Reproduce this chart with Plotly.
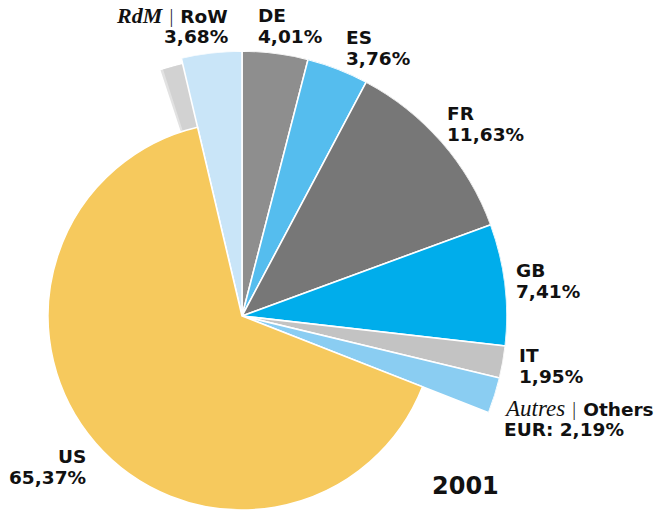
import math
import plotly.graph_objects as go

# ---- data ----
codes = ["DE", "ES", "FR", "GB", "IT", "Others", "US", "RdM"]
name_labels = ["DE", "ES", "FR", "GB", "IT",
               "<i>Autres</i> | Others", "US", "<i>RdM</i> | RoW"]
shares = [4.01, 3.76, 11.63, 7.41, 1.95, 2.19, 65.37, 3.68]
year_label = "2001"

# ---- styles ----
colors = ["#8e8e8e", "#55bdee", "#777777", "#00adeb", "#c3c3c3",
          "#8acdf2", "#f6c95d", "#c9e5f8"]
US_R = 0.732                      # relative radius of the US slice
SHADOW_SHIFT = 4.5                # degrees the grey shadow is rotated
FONT = "DejaVu Sans"
SERIF = "Liberation Serif"
W, H = 659, 512
CX, CY, RPX = 242, 316, 265       # pie centre and outer radius (px)

# angles computed from shares (compass degrees, clockwise from north)
total = sum(shares)
widths = [s / total * 360 for s in shares]
starts, acc = [], 0.0
for w in widths:
    starts.append(acc)
    acc += w
thetas = [s + w / 2 for s, w in zip(starts, widths)]

iu = codes.index("US")
ir = codes.index("RdM")
big = [i for i in range(len(codes)) if i != iu]


def sector_bbox(s0, s1):
    pts = [(0.0, 0.0)]
    angs = [s0, s1] + [k * 90 for k in range(-8, 9) if s0 < k * 90 < s1]
    for a in angs:
        pts.append((math.cos(math.radians(a)), math.sin(math.radians(a))))
    xs = [p[0] for p in pts]
    ys = [p[1] for p in pts]
    return min(xs), min(ys), max(xs), max(ys)


def domain_for(bbox, rpx):
    x0, y0, x1, y1 = bbox
    return dict(x=[(CX + rpx * x0) / W, (CX + rpx * x1) / W],
                y=[1 - (CY - rpx * y0) / H, 1 - (CY - rpx * y1) / H])


# sector (geometric, ccw from east) that holds every slice except the US one
end_compass = starts[codes.index("Others")] + widths[codes.index("Others")] + 2
start_compass = starts[ir] - SHADOW_SHIFT - 2
secA = [90 - end_compass, 90 - start_compass + 360]
domA = domain_for(sector_bbox(*secA), RPX)

# full circle for the US slice, radius limited by the bottom edge
rB_max = (H - CY) / RPX
domB = domain_for((-1, -1, 1, 1), RPX * rB_max)

fig = go.Figure()

# soft grey shadow behind the RoW slice (annulus outside the US slice)
for extra, col in [(0.6, "#e2e2e2"), (0.0, "#d2d2d2")]:
    fig.add_trace(go.Barpolar(
        r=[0.977 - US_R], base=[US_R],
        theta=[thetas[ir] - SHADOW_SHIFT - extra / 2],
        width=[widths[ir] + extra],
        marker=dict(color=col, line=dict(width=0)),
        hoverinfo="skip", showlegend=False, subplot="polar"))

fig.add_trace(go.Barpolar(
    r=[1.0] * len(big), theta=[thetas[i] for i in big],
    width=[widths[i] for i in big],
    marker=dict(color=[colors[i] for i in big],
                line=dict(color="white", width=1.6)),
    hoverinfo="skip", showlegend=False, subplot="polar"))

fig.add_trace(go.Barpolar(
    r=[US_R], theta=[thetas[iu]], width=[widths[iu]],
    marker=dict(color=[colors[iu]], line=dict(color="white", width=1.6)),
    hoverinfo="skip", showlegend=False, subplot="polar2"))

polar_common = dict(
    bgcolor="rgba(0,0,0,0)",
    angularaxis=dict(visible=False, rotation=90, direction="clockwise"),
)
fig.update_layout(
    width=W, height=H, margin=dict(l=0, r=0, t=0, b=0),
    paper_bgcolor="white", plot_bgcolor="white",
    polar=dict(domain=domA, sector=secA,
               radialaxis=dict(visible=False, range=[0, 1.0]),
               **polar_common),
    polar2=dict(domain=domB,
                radialaxis=dict(visible=False, range=[0, rB_max]),
                **polar_common),
)


def fmt(v):
    return f"{v:.2f}%".replace(".", ",")


def styled(name, code):
    weight = "600" if code == "RdM" else "normal"
    size = 22 if code == "RdM" else 23
    name = name.replace(
        "<i>", f"<span style=\"font-family:'{SERIF}';font-size:{size}px;"
               f"font-weight:{weight}\"><i>")
    name = name.replace("</i>", "</i></span>")
    name = name.replace(" | ", "<span style='font-weight:300'> | </span>")
    return name


value_labels = [fmt(v) for v in shares]
io = codes.index("Others")
value_labels[io] = "EUR: " + fmt(shares[io])

# label layout (pixel anchors: x, centre y of first line, alignment)
label_pos = {
    "DE": (256, 15, "left"),
    "ES": (344, 37, "left"),
    "FR": (445, 113, "left"),
    "GB": (514, 270, "left"),
    "IT": (517, 355, "left"),
    "Others": (502, 408, "left"),
    "US": (88, 456, "right"),
    "RdM": (230, 15, "right"),
}
LINE = 21
for c, nm, vl in zip(codes, name_labels, value_labels):
    x, y, anc = label_pos[c]
    for k, txt in enumerate([styled(nm, c), vl]):
        fig.add_annotation(
            x=x / W, y=1 - (y + k * LINE) / H, xref="paper", yref="paper",
            text=txt, showarrow=False, xanchor=anc, yanchor="middle",
            font=dict(family=FONT, size=18.5, color="#111111", weight="bold"))

fig.add_annotation(x=465 / W, y=1 - 486 / H, xref="paper", yref="paper",
                   text=year_label, showarrow=False, xanchor="center",
                   yanchor="middle",
                   font=dict(family=FONT, size=24, color="#111111", weight="bold"))

fig.write_html("out.html", config={"displayModeBar": False},
               post_script="document.body.style.margin='0px';")
